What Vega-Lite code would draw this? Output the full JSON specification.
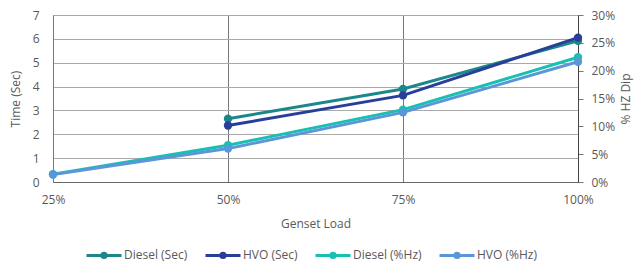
{
  "$schema": "https://vega.github.io/schema/vega-lite/v6.json",
  "width": 525,
  "height": 167,
  "autosize": {"type": "none"},
  "padding": {"left": 53, "top": 15, "right": 62, "bottom": 82},
  "background": "white",
  "config": {
    "font": "Open Sans",
    "view": {"stroke": null},
    "axis": {"labelColor": "#595959", "titleColor": "#595959", "labelFontSize": 12, "titleFontSize": 12, "titleFontWeight": "normal"}
  },
  "data": {
    "values": [
      {"load": 50, "series": "Diesel (Sec)", "sec": 2.65},
      {"load": 75, "series": "Diesel (Sec)", "sec": 3.9},
      {"load": 100, "series": "Diesel (Sec)", "sec": 5.92},
      {"load": 50, "series": "HVO (Sec)", "sec": 2.37},
      {"load": 75, "series": "HVO (Sec)", "sec": 3.63},
      {"load": 100, "series": "HVO (Sec)", "sec": 6.05},
      {"load": 25, "series": "Diesel (%Hz)", "hz": 0.014},
      {"load": 50, "series": "Diesel (%Hz)", "hz": 0.066},
      {"load": 75, "series": "Diesel (%Hz)", "hz": 0.13},
      {"load": 100, "series": "Diesel (%Hz)", "hz": 0.224},
      {"load": 25, "series": "HVO (%Hz)", "hz": 0.0135},
      {"load": 50, "series": "HVO (%Hz)", "hz": 0.06},
      {"load": 75, "series": "HVO (%Hz)", "hz": 0.125},
      {"load": 100, "series": "HVO (%Hz)", "hz": 0.216}
    ]
  },
  "encoding": {
    "x": {
      "field": "load", "type": "quantitative",
      "scale": {"domain": [25, 100], "nice": false, "zero": false},
      "axis": {
        "values": [25, 50, 75, 100], "labelExpr": "datum.value + '%'",
        "title": "Genset Load", "ticks": false, "domainColor": "#666666",
        "gridColor": "#777777", "grid": true, "labelPadding": 12, "titlePadding": 13,
        "labelFlush": false
      }
    },
    "color": {
      "field": "series", "type": "nominal",
      "scale": {
        "domain": ["Diesel (Sec)", "HVO (Sec)", "Diesel (%Hz)", "HVO (%Hz)"],
        "range": ["#1b878b", "#283f99", "#19c0b2", "#5a96d8"]
      },
      "legend": {
        "orient": "none", "legendX": 32, "legendY": 221, "direction": "horizontal", "title": null,
        "labelFontSize": 12, "labelColor": "#595959",
        "symbolType": "M-1,0H1M-0.12,0A0.12,0.12 0 1,1 0.12,0A0.12,0.12 0 1,1 -0.12,0",
        "symbolSize": 1225, "symbolStrokeWidth": 3, "columnPadding": 11, "labelOffset": 1
      }
    }
  },
  "layer": [
    {
      "transform": [{"filter": "datum.sec != null"}],
      "mark": {"type": "line", "strokeWidth": 3, "point": {"filled": true, "size": 70}},
      "encoding": {
        "y": {
          "field": "sec", "type": "quantitative",
          "scale": {"domain": [0, 7], "nice": false},
          "axis": {"title": "Time (Sec)", "tickCount": 7, "ticks": false, "gridColor": "#aaaaaa", "domainColor": "#777777", "labelPadding": 14, "titlePadding": 10}
        }
      }
    },
    {
      "transform": [{"filter": "datum.hz != null"}],
      "mark": {"type": "line", "strokeWidth": 3, "point": {"filled": true, "size": 70}},
      "encoding": {
        "y": {
          "field": "hz", "type": "quantitative",
          "scale": {"domain": [0, 0.3], "nice": false},
          "axis": {"orient": "right", "title": "% HZ Dip", "format": ".0%", "tickCount": 6, "grid": false, "ticks": true, "tickSize": 5, "tickColor": "#777777", "domainColor": "#444444", "titleAngle": 270, "titleBaseline": "top", "labelPadding": 8, "titlePadding": 6}
        }
      }
    }
  ],
  "resolve": {"scale": {"y": "independent"}}
}
